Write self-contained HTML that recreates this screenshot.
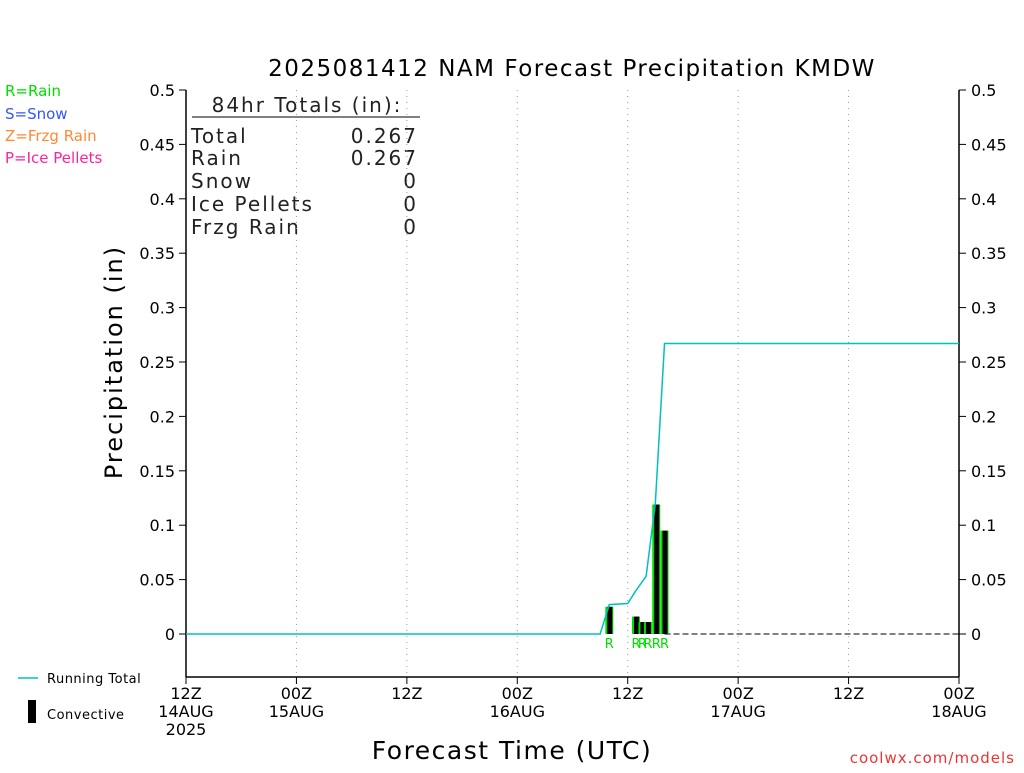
<!DOCTYPE html>
<html><head><meta charset="utf-8"><style>
body{margin:0;background:#fff;}
svg text{font-family:"DejaVu Sans","Liberation Sans",sans-serif;}
</style></head><body>
<svg width="1024" height="768" xmlns="http://www.w3.org/2000/svg" id="c">
<text x="572" y="76" font-size="23" text-anchor="middle" fill="#000" letter-spacing="1.5">2025081412 NAM Forecast Precipitation KMDW</text>
<text x="5" y="96" font-size="15" fill="#00dd00">R=Rain</text>
<text x="5" y="119" font-size="15" fill="#3355ff">S=Snow</text>
<text x="5" y="141" font-size="15" fill="#ff8833">Z=Frzg Rain</text>
<text x="5" y="163" font-size="15" fill="#ff2299">P=Ice Pellets</text>
<text transform="translate(122,362) rotate(-90)" font-size="24" text-anchor="middle" fill="#000" letter-spacing="2">Precipitation (in)</text>
<text x="512" y="759" font-size="25" text-anchor="middle" fill="#000" letter-spacing="1.5">Forecast Time (UTC)</text>
<text x="1015" y="763" font-size="15" text-anchor="end" fill="#ee3333" letter-spacing="1">coolwx.com/models</text>
<line x1="18" y1="678" x2="38" y2="678" stroke="#00c0c0" stroke-width="1.5"/>
<text x="47" y="683" font-size="13" fill="#000" letter-spacing="0.5">Running Total</text>
<rect x="28" y="700" width="8" height="23" fill="#000"/>
<text x="47" y="719" font-size="13" fill="#000" letter-spacing="0.5">Convective</text>
<g font-size="20" fill="#222" letter-spacing="2">
<text x="307" y="112" text-anchor="middle">84hr Totals (in):</text>
<line x1="192" y1="117" x2="420" y2="117" stroke="#000"/>
<text x="191" y="143">Total</text><text x="418" y="143" text-anchor="end">0.267</text>
<text x="191" y="165">Rain</text><text x="418" y="165" text-anchor="end">0.267</text>
<text x="191" y="188">Snow</text><text x="418" y="188" text-anchor="end">0</text>
<text x="191" y="211">Ice Pellets</text><text x="418" y="211" text-anchor="end">0</text>
<text x="191" y="234">Frzg Rain</text><text x="418" y="234" text-anchor="end">0</text>
</g>
<g id="g"></g>
</svg>
<script>
const yTicks=[0,0.05,0.1,0.15,0.2,0.25,0.3,0.35,0.4,0.45,0.5];
const xTickHours=[0,12,24,36,48,60,72,84];
const xTickLabels=[["12Z","14AUG","2025"],["00Z","15AUG"],["12Z"],["00Z","16AUG"],["12Z"],["00Z","17AUG"],["12Z"],["00Z","18AUG"]];
const barHours=[46,48.9,49.6,50.2,51.1,52.0];
const barValues=[0.025,0.016,0.011,0.011,0.119,0.095];
const barLabels=["R","R","R","R","R","R"];
const totalHours=[0,45,46,48,48.9,50,51,52,84];
const totalValues=[0,0,0.027,0.028,0.04,0.053,0.12,0.267,0.267];
const X=h=>186+h*(773/84), Y=v=>634-v*1088;
const g=document.getElementById('g'),NS='http://www.w3.org/2000/svg';
function el(t,a,p){const e=document.createElementNS(NS,t);for(const k in a)e.setAttribute(k,a[k]);(p||g).appendChild(e);return e;}
xTickHours.forEach((h,i)=>{
 if(h>0&&h<84){const l=el('line',{x1:X(h),y1:90,x2:X(h),y2:677,stroke:'#999','stroke-dasharray':'1,5'});
 
 }
 el('line',{x1:X(h),y1:677,x2:X(h),y2:684,stroke:'#000'});
 xTickLabels[i].forEach((s,j)=>{const t=el('text',{x:X(h),y:699+j*18,'font-size':16,'text-anchor':'middle',fill:'#000'});t.textContent=s;
 
 });
});
yTicks.forEach(v=>{
 el('line',{x1:179,y1:Y(v),x2:186,y2:Y(v),stroke:'#000'});
 el('line',{x1:959,y1:Y(v),x2:966,y2:Y(v),stroke:'#000'});
 const a=el('text',{x:175,y:Y(v)+6,'font-size':16,'text-anchor':'end',fill:'#000'});a.textContent=v;
 
 
 const b=el('text',{x:971,y:Y(v)+6,'font-size':16,fill:'#000'});b.textContent=v;
 
 
});
el('line',{x1:186,y1:90,x2:186,y2:677,stroke:'#000','stroke-width':1.5});
el('line',{x1:959,y1:90,x2:959,y2:677,stroke:'#000','stroke-width':1.5});
el('line',{x1:186,y1:677,x2:959,y2:677,stroke:'#000','stroke-width':1.5});
el('line',{x1:X(52),y1:Y(0),x2:959,y2:Y(0),stroke:'#000','stroke-dasharray':'6,3'});
barHours.forEach((h,i)=>{
 const x=X(h),y=Y(barValues[i]);
 const r=el('rect',{x:x-4,y:y,width:8,height:Y(0)-y,fill:'#00dd00'});
 
 
 el('rect',{x:x-2,y:y,width:5,height:Y(0)-y,fill:'#000'});
 const t=el('text',{x:x,y:648,'font-size':13,'text-anchor':'middle',fill:'#00dd00'});t.textContent=barLabels[i];
 
 
});
const p=el('polyline',{points:totalHours.map((h,i)=>X(h)+','+Y(totalValues[i])).join(' '),fill:'none',stroke:'#00c0c0','stroke-width':1.5});


</script>
</body></html>
